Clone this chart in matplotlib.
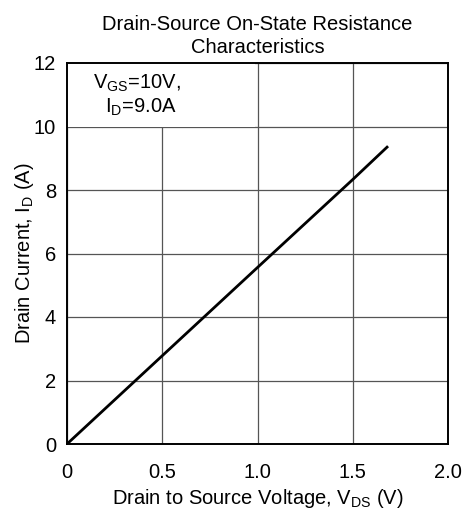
import matplotlib
matplotlib.use("Agg")
import matplotlib.pyplot as plt
from matplotlib.patches import Rectangle

plt.rcParams['font.family'] = ['Liberation Sans', 'DejaVu Sans']
plt.rcParams['mathtext.fontset'] = 'custom'
plt.rcParams['mathtext.rm'] = 'Liberation Sans'
plt.rcParams['mathtext.it'] = 'Liberation Sans'

# Data
vds = [0.0, 0.5, 1.0, 1.5, 1.68]
i_d = [0.0, 2.78, 5.56, 8.33, 9.35]

x_ticks = [0, 0.5, 1.0, 1.5, 2.0]
x_tick_labels = ['0', '0.5', '1.0', '1.5', '2.0']
y_ticks = [0, 2, 4, 6, 8, 10, 12]

fs = 14.5

fig = plt.figure(figsize=(4.7, 5.14), dpi=100)
ax = fig.add_axes([67 / 470, 1 - 444 / 514, 381 / 470, 381 / 514])

ax.set_xlim(0, 2.0)
ax.set_ylim(0, 12)
ax.set_xticks(x_ticks)
ax.set_xticklabels(x_tick_labels)
ax.set_yticks(y_ticks)
ax.tick_params(length=0, labelsize=fs, colors='black')
ax.tick_params(axis='x', pad=14)
ax.tick_params(axis='y', pad=8)

ax.grid(True, color='#555555', linewidth=0.9)
ax.set_axisbelow(True)
for s in ax.spines.values():
    s.set_linewidth(1.4)

# white box behind the annotation hides the grid there
ax.add_patch(Rectangle((0, 10), 0.985, 2, facecolor='white', edgecolor='none', zorder=1.5))

ax.plot(vds, i_d, color='black', linewidth=2, zorder=3)

ax.text(0.135, 11.2, r'V$_\mathregular{GS}$=10V,', fontsize=fs, va='baseline', ha='left', zorder=4)
ax.text(0.2, 10.45, r'I$_\mathregular{D}$=9.0A', fontsize=fs, va='baseline', ha='left', zorder=4)

ax.set_title('Drain-Source On-State Resistance\nCharacteristics', fontsize=fs,
             pad=7, linespacing=1.3)
ax.set_xlabel(r'Drain to Source Voltage, V$_\mathregular{DS}$ (V)', fontsize=fs, labelpad=3)
ax.set_ylabel(r'Drain Current, I$_\mathregular{D}$ (A)', fontsize=fs, labelpad=-1.5)

fig.savefig('out.png', dpi=100)
